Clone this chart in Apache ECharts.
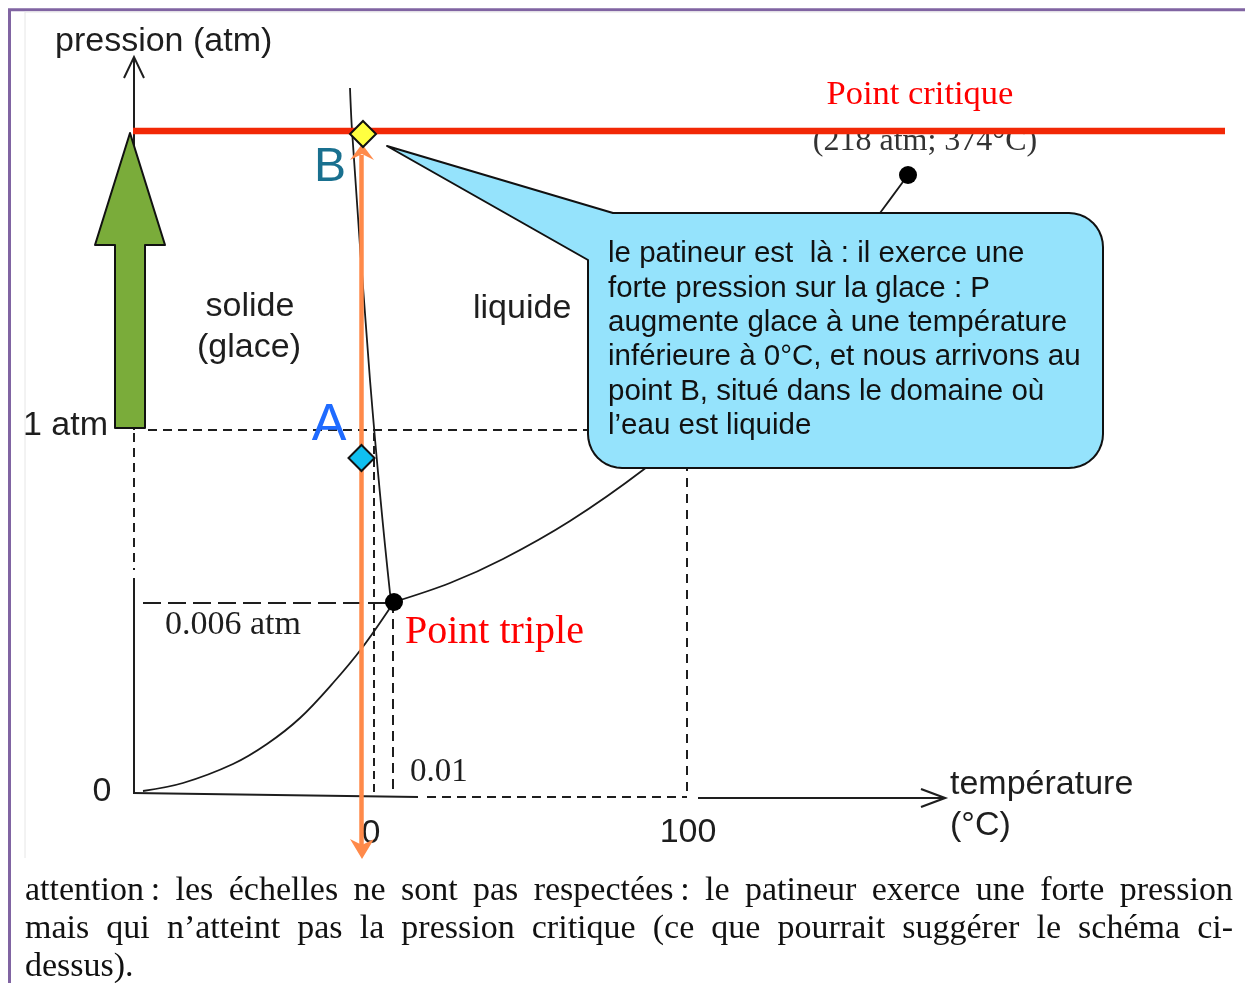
<!DOCTYPE html>
<html><head><meta charset="utf-8">
<script src="https://cdn.jsdelivr.net/npm/echarts@6/dist/echarts.min.js"></script>
<style>html,body{margin:0;padding:0;background:#fff;} #c{width:1245px;height:983px;}</style>
</head><body><div id="c"></div>
<script>
// ---------- schematic data (schematic units, origin at the axes origin; not to scale) ----------
const sublimationCurve = [[8,4],[48,12],[98,31],[132,51],[165,77],[198,112],[227,147],[259,193]];
const fusionCurve = [[215,707],[217,665],[235,415],[255,202],[259,193]];
const vaporisationCurve = [[259,193],[315,212],[368,236],[435,274],[508,325],[565,373],[625,433],[685,502],[745,582],[773,620]];
const triplePoint = [[259,193]];
const criticalPoint = [[773,620]];
const pointA = [[226.5,337]];
const pointB = [[228,661]];
const pressureLevels = [0, 192, 365, 664];          // 0, 0.006 atm, 1 atm, critical line
const pressureTickLabels = ['0', '0.006 atm', '1 atm'];
const temperatureLevels = [0, 239, 258, 552];       // origin, 0, 0.01, 100
const temperatureTickLabels = ['0', '0.01', '100'];
const regionLabels = ['solide', '(glace)', 'liquide'];
const axisTitles = ['pression (atm)', 'température', '(°C)'];
const criticalLabels = ['Point critique', '(218 atm; 374°C)'];
const tripleLabel = 'Point triple';
const pointLabels = ['A', 'B'];
const calloutLines = [
  'le patineur est  là : il exerce une',
  'forte pression sur la glace : P',
  'augmente glace à une température',
  'inférieure à 0°C, et nous arrivons au',
  'point B, situé dans le domaine où',
  'l’eau est liquide'
];
const captionLines = [
  'attention\u202F: les échelles ne sont pas respectées\u202F: le patineur exerce une forte pression',
  'mais qui n’atteint pas la pression critique (ce que pourrait suggérer le schéma ci-',
  'dessus).'
];

// ---------- layout / style ----------
const SANS = '"Liberation Sans", Arial, sans-serif';
const SERIF = '"Liberation Serif", "Times New Roman", serif';
const INK = '#1e1e1e';

const chart = echarts.init(document.getElementById('c'), null, {renderer: 'canvas'});

function layer(z, build) {
  return { type: 'custom', z: z, silent: true, animation: false, data: [0], clip: false,
    renderItem: function (params, api) { return { type: 'group', children: build(api) }; } };
}
function pl(api, pts, stroke, w, dash) {
  const st = { stroke: stroke, lineWidth: w, fill: null, lineCap: 'butt', lineJoin: 'miter' };
  if (dash) st.lineDash = dash;
  return { type: 'polyline', shape: { points: pts.map(p => api.coord(p)) }, style: st };
}
function pg(api, pts, fill, stroke, w) {
  return { type: 'polygon', shape: { points: pts.map(p => api.coord(p)) },
    style: { fill: fill, stroke: stroke || null, lineWidth: w || 0, lineJoin: 'round' } };
}
function tx(api, p, text, font, fill, align) {
  const c = api.coord(p);
  return { type: 'text', x: c[0], y: c[1],
    style: { text: text, font: font, fill: fill, align: align || 'left', verticalAlign: 'middle' } };
}

const P = pressureLevels, T = temperatureLevels;

// frame
const frameLayer = layer(0, api => [
  pl(api, [[-125.5, -200], [-125.5, 785.3], [1120, 785.3]], '#8064a2', 3),
  pl(api, [[-110, -63], [-110, 783], [1005, 783]], '#e6e6e6', 1)
]);

// dashed guide lines
const guideLayer = layer(2, api => [
  pl(api, [[13, P[2]], [T[3], P[2]]], INK, 2, [9, 6]),
  pl(api, [[-1, P[2] - 3], [-1, 225]], INK, 2, [9, 6]),
  pl(api, [[8, P[1]], [T[2], P[1]]], INK, 2, [18, 7]),
  pl(api, [[T[1], P[2] - 3], [T[1], 3]], INK, 2, [8, 5]),
  pl(api, [[T[2], P[1]], [T[2], 5]], INK, 2, [10, 6]),
  pl(api, [[T[3], P[2]], [T[3], 0]], INK, 2, [9, 7]),
  pl(api, [[292, -2], [T[3], -2]], INK, 2, [9, 6])
]);

// axes
const axesLayer = layer(3, api => [
  pl(api, [[-1, 738], [-1, P[2]]], INK, 2),
  pl(api, [[-1, 217], [-1, 2]], INK, 2),
  pl(api, [[-11, 717], [-1, 738], [9, 717]], INK, 2),
  pl(api, [[-2, 2], [283, -2]], INK, 2.2),
  pl(api, [[563, -3], [810, -3]], INK, 2.2),
  pl(api, [[786, 6], [810, -3], [786, -12]], INK, 2.2)
]);

// callout bubble
const calloutLayer = layer(5, api => {
  const L = 453, R = 968, Tp = 582, B = 327, r = 34;
  const tip = [252, 649], topJoin = [478, Tp], botJoin = [L, 535];
  const pts = [tip, topJoin, [R - r, Tp]];
  function arc(cx, cy, a0, a1) {
    for (let i = 1; i <= 10; i++) {
      const a = (a0 + (a1 - a0) * i / 10) * Math.PI / 180;
      pts.push([cx + r * Math.cos(a), cy + r * Math.sin(a)]);
    }
  }
  arc(R - r, Tp - r, 90, 0);
  pts.push([R, B + r]);
  arc(R - r, B + r, 0, -90);
  pts.push([L + r, B]);
  arc(L + r, B + r, -90, -180);
  pts.push(botJoin);
  const kids = [pg(api, pts, '#95e3fc', '#111', 2)];
  calloutLines.forEach((s, i) => kids.push(tx(api, [473, 541 - i * 34.4], s, '29.5px ' + SANS, '#111')));
  return kids;
});

// text labels
const labelLayer = layer(6, api => [
  tx(api, [-80, 753], axisTitles[0], '34px ' + SANS, INK),
  tx(api, [815, 10], axisTitles[1], '34px ' + SANS, INK),
  tx(api, [815, -31], axisTitles[2], '34px ' + SANS, INK),
  tx(api, [115, 488], regionLabels[0], '34px ' + SANS, INK, 'center'),
  tx(api, [114, 447], regionLabels[1], '34px ' + SANS, INK, 'center'),
  tx(api, [338, 486], regionLabels[2], '34px ' + SANS, INK),
  tx(api, [-27, P[2] + 4], pressureTickLabels[2], '34px ' + SANS, INK, 'right'),
  tx(api, [-33, P[0] + 3], pressureTickLabels[0], '34px ' + SANS, INK, 'center'),
  tx(api, [30, P[1] - 22], pressureTickLabels[1], '34px ' + SERIF, INK),
  tx(api, [T[1] - 3, -39], temperatureTickLabels[0], '34px ' + SANS, INK, 'center'),
  tx(api, [T[2] + 17, 23], temperatureTickLabels[1], '33px ' + SERIF, INK),
  tx(api, [T[3] + 1, -38], temperatureTickLabels[2], '34px ' + SANS, INK, 'center'),
  tx(api, [270, 163], tripleLabel, '40px ' + SERIF, '#ff0000'),
  tx(api, [785, 700], criticalLabels[0], '34.5px ' + SERIF, '#ff0000', 'center'),
  tx(api, [790, 653], criticalLabels[1], '32px ' + SERIF, '#333', 'center')
]);

// red critical line
const redLayer = layer(7, api => [
  pl(api, [[-2, P[3]], [1090, P[3]]], '#f22806', 6.5)
]);

// green block arrow and orange path
const arrowLayer = layer(8, api => [
  pg(api, [[-5, 662], [30, 550], [10, 550], [10, 367], [-20, 367], [-20, 550], [-40, 550]], '#7aac3a', '#111', 2),
  pl(api, [[pointA[0][0], 640], [pointA[0][0], -52]], '#ff8a4a', 4.5),
  pg(api, [[227, 651], [215, 635], [227, 641], [239, 635]], '#ff8a4a'),
  pg(api, [[227, -64], [215, -44], [227, -50], [239, -44]], '#ff8a4a')
]);

// A / B letters
const letterLayer = layer(10, api => [
  tx(api, [194, 369], pointLabels[0], '52px ' + SANS, '#1f6bff', 'center'),
  tx(api, [195, 627], pointLabels[1], '48px ' + SANS, '#19708f', 'center')
]);

// justified caption
const CAP_FONT = '34px ' + SERIF;
const measureCtx = document.createElement('canvas').getContext('2d');
const captionLayer = layer(10, api => {
  measureCtx.font = CAP_FONT;
  const x0 = api.coord([-110, 0])[0], x1 = api.coord([1098, 0])[0];
  const kids = [];
  const ys = [-96, -134, -172];
  captionLines.forEach((line, li) => {
    const words = line.split(' ');
    const ws = words.map(w => measureCtx.measureText(w).width);
    const sum = ws.reduce((a, b) => a + b, 0);
    const justify = li < captionLines.length - 1;
    const gap = justify ? (x1 - x0 - sum) / (words.length - 1) : measureCtx.measureText(' ').width;
    const y = api.coord([0, ys[li]])[1];
    let x = x0;
    words.forEach((w, i) => {
      kids.push({ type: 'text', x: x, y: y, style: { text: w, font: CAP_FONT, fill: '#111', align: 'left', verticalAlign: 'middle' } });
      x += ws[i] + gap;
    });
  });
  return kids;
});

const curveStyle = { color: '#1a1a1a', width: 1.8 };
const option = {
  animation: false,
  backgroundColor: '#ffffff',
  grid: { left: 0, right: 0, top: 0, bottom: 0, containLabel: false },
  xAxis: { type: 'value', min: -135, max: 1110, show: false },
  yAxis: { type: 'value', min: -188, max: 795, show: false },
  series: [
    frameLayer, guideLayer, axesLayer,
    { type: 'line', name: 'sublimation', data: sublimationCurve, z: 3, smooth: 0.35, showSymbol: false, symbol: 'none', lineStyle: curveStyle, silent: true },
    { type: 'line', name: 'fusion', data: fusionCurve, z: 3, smooth: 0.3, showSymbol: false, symbol: 'none', lineStyle: curveStyle, silent: true },
    { type: 'line', name: 'vaporisation', data: vaporisationCurve, z: 3, smooth: 0.35, showSymbol: false, symbol: 'none', lineStyle: curveStyle, silent: true },
    calloutLayer, labelLayer, redLayer, arrowLayer,
    { type: 'scatter', data: triplePoint.concat(criticalPoint), z: 9, symbol: 'circle', symbolSize: 18, itemStyle: { color: '#000', opacity: 1 }, silent: true },
    { type: 'scatter', data: pointA, z: 9, symbol: 'diamond', symbolSize: 26, itemStyle: { color: '#10c0f0', borderColor: '#111', borderWidth: 2, opacity: 1 }, silent: true },
    { type: 'scatter', data: pointB, z: 9, symbol: 'diamond', symbolSize: 26, itemStyle: { color: '#ffff40', borderColor: '#111', borderWidth: 2, opacity: 1 }, silent: true },
    letterLayer, captionLayer
  ]
};
chart.setOption(option);
</script></body></html>
